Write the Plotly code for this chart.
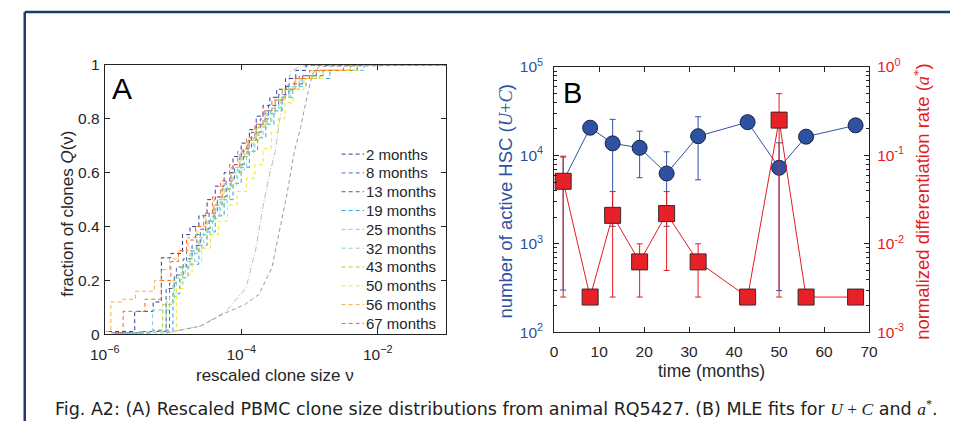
import plotly.graph_objects as go

W, H = 959, 429

# ---------------- Panel A data (log10 of rescaled clone size, Q) ----------------
series_labels = ["2 months", "8 months", "13 months", "19 months", "25 months",
                 "32 months", "43 months", "50 months", "56 months", "67 months"]
series_colors = ["#2b3a9a", "#4f6bb0", "#3d5db8", "#2f9fe6", "#78d3e3",
                 "#8ed6ae", "#a9d12a", "#f2e52b", "#f9ad3c", "#f86228"]

logv_m2 = [-5.95, -5.56, -5.29, -5.17, -5.03, -4.86, -4.75, -4.62, -4.50, -4.38, -4.25, -4.12,
           -4.00, -3.88, -3.78, -3.68, -3.58, -3.48, -3.35, -3.20, -3.05, -1.0]
q_m2 = [0.01, 0.085, 0.12, 0.284, 0.30, 0.37, 0.40, 0.44, 0.50, 0.55, 0.60, 0.66,
        0.71, 0.76, 0.81, 0.85, 0.88, 0.91, 0.95, 0.98, 1.0, 1.0]

logv_m8 = [-5.90, -5.30, -5.05, -4.95, -4.80, -4.65, -4.52, -4.40, -4.28, -4.15, -4.02, -3.90,
           -3.78, -3.65, -3.50, -3.35, -3.15, -2.90, -2.40, -1.0]
q_m8 = [0.005, 0.015, 0.19, 0.25, 0.31, 0.37, 0.42, 0.48, 0.54, 0.60, 0.66, 0.72,
        0.78, 0.83, 0.88, 0.92, 0.96, 0.98, 1.0, 1.0]

logv_m13 = [-5.85, -5.45, -5.10, -4.98, -4.85, -4.72, -4.60, -4.47, -4.35, -4.22, -4.10, -3.97,
            -3.85, -3.72, -3.60, -3.45, -3.30, -3.10, -2.80, -2.30, -1.0]
q_m13 = [0.005, 0.01, 0.17, 0.22, 0.28, 0.33, 0.39, 0.45, 0.51, 0.57, 0.63, 0.69,
         0.75, 0.80, 0.85, 0.89, 0.93, 0.96, 0.98, 1.0, 1.0]

logv_m19 = [-5.80, -5.40, -5.00, -4.90, -4.78, -4.62, -4.50, -4.38, -4.25, -4.12, -4.00, -3.88,
            -3.76, -3.64, -3.52, -3.40, -3.25, -3.05, -2.70, -2.20, -1.0]
q_m19 = [0.005, 0.01, 0.15, 0.21, 0.26, 0.33, 0.38, 0.44, 0.50, 0.56, 0.62, 0.68,
         0.73, 0.78, 0.83, 0.88, 0.92, 0.95, 0.98, 1.0, 1.0]

logv_m25 = [-5.70, -5.30, -5.05, -4.95, -4.82, -4.68, -4.55, -4.42, -4.30, -4.17, -4.05, -3.92,
            -3.80, -3.68, -3.55, -3.42, -3.28, -3.10, -2.80, -2.20, -1.0]
q_m25 = [0.005, 0.09, 0.14, 0.21, 0.27, 0.32, 0.38, 0.44, 0.50, 0.56, 0.62, 0.68,
         0.74, 0.79, 0.84, 0.88, 0.92, 0.95, 0.98, 1.0, 1.0]

logv_m32 = [-5.60, -5.10, -4.98, -4.86, -4.72, -4.58, -4.45, -4.32, -4.20, -4.07, -3.95, -3.82,
            -3.70, -3.57, -3.45, -3.30, -3.12, -2.85, -2.30, -1.0]
q_m32 = [0.005, 0.12, 0.19, 0.25, 0.31, 0.37, 0.43, 0.49, 0.55, 0.61, 0.67, 0.73,
         0.78, 0.83, 0.88, 0.92, 0.95, 0.98, 1.0, 1.0]

logv_m43 = [-5.50, -5.15, -5.00, -4.88, -4.75, -4.62, -4.50, -4.38, -4.25, -4.12, -4.00, -3.88,
            -3.75, -3.62, -3.50, -3.36, -3.20, -2.95, -2.40, -1.0]
q_m43 = [0.01, 0.11, 0.20, 0.25, 0.30, 0.36, 0.42, 0.48, 0.54, 0.60, 0.66, 0.72,
         0.77, 0.82, 0.87, 0.91, 0.95, 0.98, 1.0, 1.0]

logv_m50 = [-5.40, -4.95, -4.85, -4.72, -4.58, -4.45, -4.33, -4.20, -4.06, -3.92, -3.80, -3.68,
            -3.56, -3.46, -3.36, -3.24, -3.08, -2.80, -2.30, -1.0]
q_m50 = [0.01, 0.17, 0.22, 0.27, 0.32, 0.37, 0.42, 0.48, 0.53, 0.58, 0.63, 0.69,
         0.75, 0.80, 0.86, 0.91, 0.95, 0.98, 1.0, 1.0]

logv_m56 = [-5.99, -5.91, -5.74, -5.55, -5.27, -5.17, -5.05, -4.92, -4.78, -4.65, -4.52, -4.40,
            -4.27, -4.15, -4.02, -3.90, -3.78, -3.65, -3.50, -3.35, -3.15, -2.90, -2.40, -1.0]
q_m56 = [0.01, 0.12, 0.13, 0.16, 0.20, 0.24, 0.28, 0.31, 0.36, 0.40, 0.45, 0.50,
         0.56, 0.62, 0.67, 0.72, 0.77, 0.82, 0.87, 0.91, 0.95, 0.98, 1.0, 1.0]

logv_m67 = [-5.85, -5.73, -5.41, -5.17, -5.03, -4.92, -4.80, -4.67, -4.55, -4.42, -4.30, -4.17,
            -4.05, -3.92, -3.80, -3.68, -3.55, -3.40, -3.22, -3.00, -2.50, -1.0]
q_m67 = [0.005, 0.085, 0.13, 0.20, 0.27, 0.31, 0.35, 0.40, 0.45, 0.51, 0.57, 0.63,
         0.68, 0.73, 0.78, 0.83, 0.87, 0.91, 0.95, 0.98, 1.0, 1.0]

series_logv = [logv_m2, logv_m8, logv_m13, logv_m19, logv_m25,
               logv_m32, logv_m43, logv_m50, logv_m56, logv_m67]
series_q = [q_m2, q_m8, q_m13, q_m19, q_m25, q_m32, q_m43, q_m50, q_m56, q_m67]

# theoretical (grey) curves
logv_fit1 = [-5.1, -4.6, -4.22, -3.93, -3.79, -3.67, -3.58, -3.50, -3.41, -3.27, -3.13, -1.0]
q_fit1 = [0.005, 0.03, 0.085, 0.172, 0.31, 0.49, 0.60, 0.68, 0.84, 0.977, 0.997, 1.0]
logv_fit2 = [-5.1, -4.6, -4.22, -3.95, -3.74, -3.55, -3.43, -3.33, -3.22, -3.13, -3.03, -2.95, -2.85, -1.0]
q_fit2 = [0.005, 0.03, 0.08, 0.11, 0.148, 0.247, 0.395, 0.52, 0.68, 0.767, 0.89, 0.97, 0.995, 1.0]

# ---------------- Panel B data ----------------
time_months = [2, 8, 13, 19, 25, 32, 43, 50, 56, 67]
hsc = [5.1e3, 2.06e4, 1.37e4, 1.22e4, 6.25e3, 1.65e4, 2.38e4, 7.25e3, 1.63e4, 2.19e4]
hsc_hi = [9.6e3, 2.06e4, 2.56e4, 1.88e4, 1.1e4, 2.74e4, 2.38e4, 1.39e4, 1.63e4, 2.19e4]
hsc_lo = [300, 2.06e4, 1.58e3, 5.6e3, 1.58e3, 5.3e3, 2.38e4, 296, 1.63e4, 2.19e4]

rate = [0.051, 0.0025, 0.021, 0.00625, 0.022, 0.00625, 0.0025, 0.251, 0.0025, 0.0025]
rate_hi = [0.098, 0.0025, 0.039, 0.01, 0.039, 0.01, 0.0025, 0.5, 0.0025, 0.0025]
rate_lo = [0.0025, 0.0025, 0.0025, 0.0025, 0.005, 0.0025, 0.0025, 0.0025, 0.0025, 0.0025]

xA_ticks = [1e-6, 1e-4, 1e-2]
xA_ticktext = ["10<sup>−6</sup>", "10<sup>−4</sup>", "10<sup>−2</sup>"]
yA_ticks = [0, 0.2, 0.4, 0.6, 0.8, 1]
yA_ticktext = ["0", "0.2", "0.4", "0.6", "0.8", "1"]
yB_ticks = [1e2, 1e3, 1e4, 1e5]
yB_ticktext = ["10<sup>2</sup>", "10<sup>3</sup>", "10<sup>4</sup>", "10<sup>5</sup>"]
yB2_ticks = [1e-3, 1e-2, 1e-1, 1e0]
yB2_ticktext = ["10<sup>-3</sup>", "10<sup>-2</sup>", "10<sup>-1</sup>", "10<sup>0</sup>"]

BLUE = "#2d52a3"
RED = "#e8191f"
TXT = "#262626"
FONT = "Liberation Sans, Arial, sans-serif"
TICKSIZE = 15.5

# the photographed page shows the figure shifted down ~10 px and scaled ~0.955 vertically;
# layout positions are converted accordingly
SHOT_Y0, SHOT_SY = 10.0, 0.955


def px_x(p):
    return p / W


def px_y(p):
    fy = (p - SHOT_Y0) / SHOT_SY
    fy = min(max(fy, 1.0), H)
    return 1 - fy / H


fig = go.Figure()

# grey theory curves
fig.add_trace(go.Scatter(x=[10 ** v for v in logv_fit1], y=q_fit1, mode="lines",
                         line=dict(color="#bdbdbd", width=1, dash="6px,2px,1px,2px"),
                         showlegend=False, xaxis="x", yaxis="y"))
fig.add_trace(go.Scatter(x=[10 ** v for v in logv_fit2], y=q_fit2, mode="lines",
                         line=dict(color="#9a9a9a", width=1, dash="4px,3px"),
                         showlegend=False, xaxis="x", yaxis="y"))

for lab, col, lv, qv in zip(series_labels, series_colors, series_logv, series_q):
    fig.add_trace(go.Scatter(x=[10 ** v for v in lv], y=qv, mode="lines", name=lab,
                             showlegend=False,
                             line=dict(color=col, width=1, dash="4px,3px", shape="hv"),
                             xaxis="x", yaxis="y"))

# Panel B
fig.add_trace(go.Scatter(
    x=time_months, y=hsc, mode="lines+markers", showlegend=False,
    line=dict(color=BLUE, width=1),
    marker=dict(symbol="circle", size=15, color=BLUE, line=dict(color="#1c2440", width=1)),
    error_y=dict(type="data", symmetric=False,
                 array=[h - v for h, v in zip(hsc_hi, hsc)],
                 arrayminus=[v - l for v, l in zip(hsc, hsc_lo)],
                 color=BLUE, thickness=1, width=3),
    xaxis="x2", yaxis="y2"))
fig.add_trace(go.Scatter(
    x=time_months, y=rate, mode="lines+markers", showlegend=False,
    line=dict(color=RED, width=1),
    marker=dict(symbol="square", size=16, color="#e82027", line=dict(color="#3a2a2a", width=1)),
    error_y=dict(type="data", symmetric=False,
                 array=[h - v for h, v in zip(rate_hi, rate)],
                 arrayminus=[v - l for v, l in zip(rate, rate_lo)],
                 color=RED, thickness=1, width=3),
    xaxis="x2", yaxis="y3"))

minor_B = [m * 10 ** k for k in range(2, 5) for m in range(2, 10)]
minor_B2 = [m * 10 ** k for k in range(-3, 0) for m in range(2, 10)]

common_ax = dict(showline=True, linecolor="#222", linewidth=1, showgrid=False, zeroline=False,
                 ticks="inside", ticklen=5, tickcolor="#222",
                 tickfont=dict(family=FONT, size=TICKSIZE, color=TXT))

fig.update_layout(
    width=W, height=H, margin=dict(l=0, r=0, t=0, b=0),
    paper_bgcolor="white", plot_bgcolor="white",
    font=dict(family=FONT, color=TXT),
    showlegend=False,
    xaxis=dict(type="log", range=[-6, -1], domain=[px_x(92), px_x(442)], anchor="y",
               tickmode="array", tickvals=xA_ticks, ticktext=xA_ticktext, mirror="ticks",
               ticklabelstandoff=6, **common_ax),
    yaxis=dict(range=[0, 1], domain=[px_y(333), px_y(64)], anchor="x",
               tickmode="array", tickvals=yA_ticks, ticktext=yA_ticktext, mirror="ticks",
               ticklabelstandoff=1, **common_ax),
    xaxis2=dict(range=[0, 70], domain=[px_x(553), px_x(876)], anchor="y2",
                tickmode="linear", tick0=0, dtick=10, mirror="ticks",
                ticklabelstandoff=5, **common_ax),
    yaxis2=dict(type="log", range=[2, 5], domain=[px_y(331), px_y(66)], anchor="x2",
                tickmode="array", tickvals=yB_ticks, ticktext=yB_ticktext, mirror=True,
                ticklabelstandoff=7,
                minor=dict(tickmode="array", tickvals=minor_B, ticks="inside", ticklen=3,
                           tickcolor="#222"),
                showline=True, linecolor="#222", linewidth=1, showgrid=False, zeroline=False,
                ticks="inside", ticklen=5, tickcolor="#222",
                tickfont=dict(family=FONT, size=TICKSIZE, color=BLUE)),
    yaxis3=dict(type="log", range=[-3, 0], overlaying="y2", side="right", anchor="x2",
                tickmode="array", tickvals=yB2_ticks, ticktext=yB2_ticktext,
                ticklabelstandoff=4,
                minor=dict(tickmode="array", tickvals=minor_B2, ticks="inside", ticklen=3,
                           tickcolor="#222"),
                showline=True, linecolor="#222", linewidth=1, showgrid=False, zeroline=False,
                ticks="inside", ticklen=5, tickcolor="#222",
                tickfont=dict(family=FONT, size=TICKSIZE, color=RED)),
)

# legend for panel A (drawn as line samples + labels inside the axes)
leg_x0, leg_x1, leg_text_x = 335, 358, 359
leg_y0, leg_dy = 153, 18.8
for i, (lab, col) in enumerate(zip(series_labels, series_colors)):
    yy = leg_y0 + i * leg_dy
    fig.add_shape(type="line", xref="paper", yref="paper",
                  x0=px_x(leg_x0), x1=px_x(leg_x1), y0=px_y(yy), y1=px_y(yy),
                  line=dict(color=col, width=1, dash="4px,3px"))
    fig.add_annotation(xref="paper", yref="paper", showarrow=False, xanchor="left",
                       yanchor="middle", x=px_x(leg_text_x), y=px_y(yy), text=lab,
                       font=dict(family=FONT, size=15, color=TXT), borderpad=0)

serif = "font-family:'Liberation Serif',serif"
ann = [
    dict(text="A", x=px_x(110), y=px_y(87), font=dict(size=30, color="black")),
    dict(text="B", x=px_x(572), y=px_y(92), font=dict(size=29, color="black")),
    dict(text="fraction of clones <i>Q</i>(ν)", x=px_x(54), y=px_y(213), textangle=-90,
         font=dict(size=17, color=TXT)),
    dict(text="rescaled clone size ν", x=px_x(267), y=px_y(374), font=dict(size=17, color=TXT)),
    dict(text="time (months)", x=px_x(714), y=px_y(370), font=dict(size=17.5, color=TXT)),
    dict(text=f"number of active HSC (<span style=\"{serif}\"><i>U</i>+<i>C</i></span>)",
         x=px_x(503), y=px_y(200), textangle=-90, font=dict(size=18.5, color=BLUE)),
    dict(text=f"normalized differentiation rate (<span style=\"{serif}\"><i>a</i><sup>*</sup></span>)",
         x=px_x(930), y=px_y(200), textangle=-90, font=dict(size=18.5, color=RED)),
]
for a in ann:
    fig.add_annotation(xref="paper", yref="paper", showarrow=False,
                       xanchor="center", yanchor="middle", **a)

fig.add_annotation(
    xref="paper", yref="paper", showarrow=False, xanchor="left", yanchor="middle",
    x=px_x(40), y=px_y(407), borderpad=0,
    text=("Fig. A2: (A) Rescaled PBMC clone size distributions from animal RQ5427. "
          f"(B) MLE fits for <span style=\"{serif}\"><i>U</i> + <i>C</i></span> and "
          f"<span style=\"{serif}\"><i>a</i><sup>*</sup></span>."),
    font=dict(family="DejaVu Sans, sans-serif", size=17.5, color="#222"))

frame_col = "#1b3a6e"
fig.add_shape(type="line", xref="paper", yref="paper", x0=px_x(10), x1=px_x(10), y0=0, y1=px_y(7),
              line=dict(color=frame_col, width=2.5))
fig.add_shape(type="line", xref="paper", yref="paper", x0=px_x(10), x1=1, y0=px_y(7), y1=px_y(7),
              line=dict(color=frame_col, width=2.5))

fig.write_html("out.html")
